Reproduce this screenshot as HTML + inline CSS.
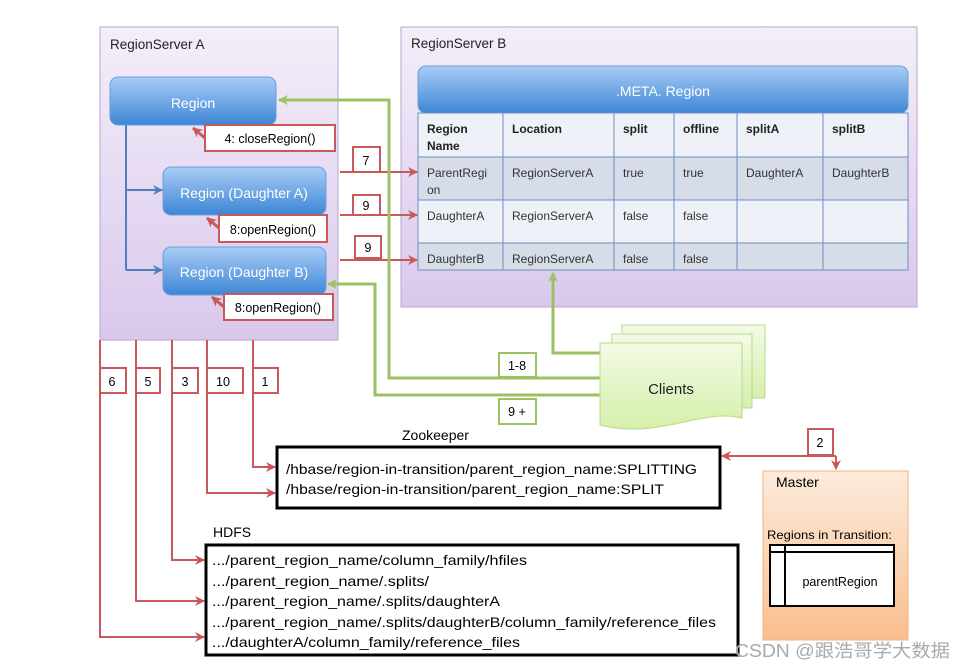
<!DOCTYPE html>
<html><head><meta charset="utf-8"><style>
html,body{margin:0;padding:0;background:#fff;}
svg{display:block;font-family:"Liberation Sans","Noto Sans CJK SC",sans-serif;}
</style></head><body>
<svg width="964" height="668" viewBox="0 0 964 668" xmlns="http://www.w3.org/2000/svg">
<defs>
<linearGradient id="rs" x1="0" y1="0" x2="0" y2="1"><stop offset="0" stop-color="#f4eef9"/><stop offset="1" stop-color="#d9c8ec"/></linearGradient>
<linearGradient id="bl" x1="0" y1="0" x2="0" y2="1"><stop offset="0" stop-color="#a9cdf5"/><stop offset="1" stop-color="#3d86d6"/></linearGradient>
<linearGradient id="gr" x1="0" y1="0" x2="0" y2="1"><stop offset="0" stop-color="#f3fbe6"/><stop offset="1" stop-color="#d5efaa"/></linearGradient>
<linearGradient id="or" x1="0" y1="0" x2="0" y2="1"><stop offset="0" stop-color="#fdebdc"/><stop offset="1" stop-color="#f9be8e"/></linearGradient>
<marker id="ra" markerWidth="10" markerHeight="10" refX="9" refY="5" orient="auto" markerUnits="userSpaceOnUse"><path d="M0,0 L10,5 L0,10 L3,5z" fill="#c9585a"/></marker>
<marker id="ga" markerWidth="10" markerHeight="10" refX="9" refY="5" orient="auto" markerUnits="userSpaceOnUse"><path d="M0,0 L10,5 L0,10 L3,5z" fill="#9bc160"/></marker>
<marker id="ba" markerWidth="10" markerHeight="10" refX="9" refY="5" orient="auto" markerUnits="userSpaceOnUse"><path d="M0,0 L10,5 L0,10 L3,5z" fill="#4f81bd"/></marker>
</defs>

<rect x="100" y="27" width="238" height="313" fill="url(#rs)" stroke="#b8a6cf"/>
<text x="110" y="49" font-size="13.5" fill="#222">RegionServer A</text>
<rect x="401" y="27" width="516" height="280" fill="url(#rs)" stroke="#b8a6cf"/>
<text x="411" y="48" font-size="13.5" fill="#222">RegionServer B</text>

<path d="M126,125 V270" stroke="#4f81bd" stroke-width="2" fill="none"/>
<path d="M126,190 H162" stroke="#4f81bd" stroke-width="2" marker-end="url(#ba)"/>
<path d="M126,270 H162" stroke="#4f81bd" stroke-width="2" marker-end="url(#ba)"/>

<rect x="110" y="77" width="166" height="48" rx="8" fill="url(#bl)" stroke="#6a9fd8"/>
<text x="193" y="108" font-size="14" fill="#fff" text-anchor="middle">Region</text>
<rect x="163" y="167" width="163" height="48" rx="8" fill="url(#bl)" stroke="#6a9fd8"/>
<text x="244" y="198" font-size="14" fill="#fff" text-anchor="middle">Region (Daughter A)</text>
<rect x="163" y="247" width="163" height="48" rx="8" fill="url(#bl)" stroke="#6a9fd8"/>
<text x="244" y="277" font-size="14" fill="#fff" text-anchor="middle">Region (Daughter B)</text>

<path d="M205,138 L193,128" stroke="#c9585a" stroke-width="3" marker-end="url(#ra)"/>
<rect x="205" y="125" width="130" height="26" fill="#fff" stroke="#c9585a" stroke-width="2"/>
<text x="270" y="143" font-size="12.5" text-anchor="middle">4: closeRegion()</text>
<path d="M219,228 L207,218" stroke="#c9585a" stroke-width="3" marker-end="url(#ra)"/>
<rect x="219" y="215" width="108" height="27" fill="#fff" stroke="#c9585a" stroke-width="2"/>
<text x="273" y="234" font-size="12.5" text-anchor="middle">8:openRegion()</text>
<path d="M224,307 L212,297" stroke="#c9585a" stroke-width="3" marker-end="url(#ra)"/>
<rect x="224" y="294" width="109" height="26" fill="#fff" stroke="#c9585a" stroke-width="2"/>
<text x="278" y="312" font-size="12.5" text-anchor="middle">8:openRegion()</text>

<rect x="418" y="66" width="490" height="47" rx="8" fill="url(#bl)" stroke="#6a9fd8"/>
<text x="663" y="96" font-size="14" fill="#fff" text-anchor="middle">.META. Region</text>
<rect x="418" y="113" width="490" height="44" fill="#eef1f8"/>
<rect x="418" y="157" width="490" height="43" fill="#d6dde9"/>
<rect x="418" y="200" width="490" height="43" fill="#eef1f8"/>
<rect x="418" y="243" width="490" height="27" fill="#d6dde9"/>
<g stroke="#6f8fc0" stroke-width="1">
<rect x="418" y="113" width="490" height="157" fill="none"/>
<line x1="418" y1="157" x2="908" y2="157"/><line x1="418" y1="200" x2="908" y2="200"/><line x1="418" y1="243" x2="908" y2="243"/>
<line x1="503" y1="113" x2="503" y2="270"/><line x1="614" y1="113" x2="614" y2="270"/><line x1="674" y1="113" x2="674" y2="270"/><line x1="737" y1="113" x2="737" y2="270"/><line x1="823" y1="113" x2="823" y2="270"/>
</g>
<g font-size="12" fill="#222" font-weight="bold">
<text x="427" y="133">Region</text><text x="427" y="150">Name</text>
<text x="512" y="133">Location</text><text x="623" y="133">split</text><text x="683" y="133">offline</text><text x="746" y="133">splitA</text><text x="832" y="133">splitB</text>
</g>
<g font-size="12" fill="#333">
<text x="427" y="177">ParentRegi</text><text x="427" y="194">on</text>
<text x="512" y="177">RegionServerA</text><text x="623" y="177">true</text><text x="683" y="177">true</text><text x="746" y="177">DaughterA</text><text x="832" y="177">DaughterB</text>
<text x="427" y="220">DaughterA</text><text x="512" y="220">RegionServerA</text><text x="623" y="220">false</text><text x="683" y="220">false</text>
<text x="427" y="263">DaughterB</text><text x="512" y="263">RegionServerA</text><text x="623" y="263">false</text><text x="683" y="263">false</text>
</g>

<path d="M340,172 H417" stroke="#c9585a" stroke-width="2" marker-end="url(#ra)"/>
<path d="M340,215 H417" stroke="#c9585a" stroke-width="2" marker-end="url(#ra)"/>
<path d="M340,260 H417" stroke="#c9585a" stroke-width="2" marker-end="url(#ra)"/>
<rect x="353" y="147" width="27" height="25" fill="#fff" stroke="#c9585a" stroke-width="2"/><text x="366" y="165" font-size="12.5" text-anchor="middle">7</text>
<rect x="353" y="195" width="27" height="20" fill="#fff" stroke="#c9585a" stroke-width="2"/><text x="366" y="210" font-size="12.5" text-anchor="middle">9</text>
<rect x="355" y="236" width="26" height="22" fill="#fff" stroke="#c9585a" stroke-width="2"/><text x="368" y="252" font-size="12.5" text-anchor="middle">9</text>

<path d="M600,378 H389 V100 H279" stroke="#9bc160" stroke-width="3" fill="none" marker-end="url(#ga)"/>
<path d="M600,395 H375 V284 H328" stroke="#9bc160" stroke-width="3" fill="none" marker-end="url(#ga)"/>
<path d="M600,353 H553 V273" stroke="#9bc160" stroke-width="3" fill="none" marker-end="url(#ga)"/>
<rect x="499" y="353" width="37" height="24" fill="#fff" stroke="#9bc160" stroke-width="2"/><text x="517" y="370" font-size="12.5" text-anchor="middle">1-8</text>
<rect x="499" y="399" width="37" height="25" fill="#fff" stroke="#9bc160" stroke-width="2"/><text x="517" y="416" font-size="12.5" text-anchor="middle">9 +</text>

<path d="M622,325 H765 V398 H622 Z" fill="url(#gr)" stroke="#b8d98a"/>
<path d="M612,334 H752 V408 H612 Z" fill="url(#gr)" stroke="#b8d98a"/>
<path d="M600,343 H742 V418 C700,408 660,440 600,425 Z" fill="url(#gr)" stroke="#b8d98a"/>
<text x="671" y="394" font-size="15" text-anchor="middle" fill="#222">Clients</text>

<g stroke="#c9585a" stroke-width="2" fill="none">
<path d="M253,340 V467 H275" marker-end="url(#ra)"/>
<path d="M207,340 V493 H275" marker-end="url(#ra)"/>
<path d="M172,340 V560 H204" marker-end="url(#ra)"/>
<path d="M136,340 V601 H204" marker-end="url(#ra)"/>
<path d="M100,340 V637 H204" marker-end="url(#ra)"/>
</g>
<g font-size="12.5" text-anchor="middle">
<rect x="100" y="368" width="26" height="25" fill="#fff" stroke="#c9585a" stroke-width="2"/><text x="112" y="386">6</text>
<rect x="136" y="368" width="24" height="25" fill="#fff" stroke="#c9585a" stroke-width="2"/><text x="148" y="386">5</text>
<rect x="172" y="368" width="26" height="25" fill="#fff" stroke="#c9585a" stroke-width="2"/><text x="185" y="386">3</text>
<rect x="207" y="368" width="36" height="25" fill="#fff" stroke="#c9585a" stroke-width="2"/><text x="223" y="386">10</text>
<rect x="253" y="368" width="25" height="25" fill="#fff" stroke="#c9585a" stroke-width="2"/><text x="265" y="386">1</text>
</g>

<text x="402" y="440" font-size="14">Zookeeper</text>
<rect x="277" y="447" width="443" height="61" fill="#fff" stroke="#000" stroke-width="3"/>
<text x="286" y="474" font-size="14" textLength="411" lengthAdjust="spacingAndGlyphs">/hbase/region-in-transition/parent_region_name:SPLITTING</text>
<text x="286" y="494" font-size="14" textLength="378" lengthAdjust="spacingAndGlyphs">/hbase/region-in-transition/parent_region_name:SPLIT</text>

<text x="213" y="537" font-size="14">HDFS</text>
<rect x="206" y="545" width="532" height="110" fill="#fff" stroke="#000" stroke-width="3"/>
<g font-size="14">
<text x="212" y="565" textLength="315" lengthAdjust="spacingAndGlyphs">.../parent_region_name/column_family/hfiles</text>
<text x="212" y="586" textLength="217" lengthAdjust="spacingAndGlyphs">.../parent_region_name/.splits/</text>
<text x="212" y="606" textLength="288" lengthAdjust="spacingAndGlyphs">.../parent_region_name/.splits/daughterA</text>
<text x="212" y="627" textLength="504" lengthAdjust="spacingAndGlyphs">.../parent_region_name/.splits/daughterB/column_family/reference_files</text>
<text x="212" y="647" textLength="308" lengthAdjust="spacingAndGlyphs">.../daughterA/column_family/reference_files</text>
</g>

<rect x="763" y="471" width="145" height="169" fill="url(#or)" stroke="#f2b27d"/>
<text x="776" y="487" font-size="14">Master</text>
<path d="M836,456 H722" stroke="#c9585a" stroke-width="2" marker-end="url(#ra)"/>
<path d="M836,456 V469" stroke="#c9585a" stroke-width="2" marker-end="url(#ra)"/>
<rect x="808" y="429" width="25" height="26" fill="#fff" stroke="#c9585a" stroke-width="2"/><text x="820" y="447" font-size="12.5" text-anchor="middle">2</text>
<text x="767" y="539" font-size="12" textLength="125" lengthAdjust="spacingAndGlyphs">Regions in Transition:</text>
<rect x="770" y="545" width="124" height="61" fill="#fff" stroke="#000" stroke-width="2"/>
<line x1="770" y1="552" x2="894" y2="552" stroke="#000" stroke-width="2"/>
<line x1="785" y1="545" x2="785" y2="606" stroke="#000" stroke-width="2"/>
<text x="840" y="586" font-size="12.5" text-anchor="middle">parentRegion</text>

<text x="735" y="657" font-size="18" fill="#aaa" textLength="215" lengthAdjust="spacingAndGlyphs">CSDN @跟浩哥学大数据</text>
</svg>
</body></html>
